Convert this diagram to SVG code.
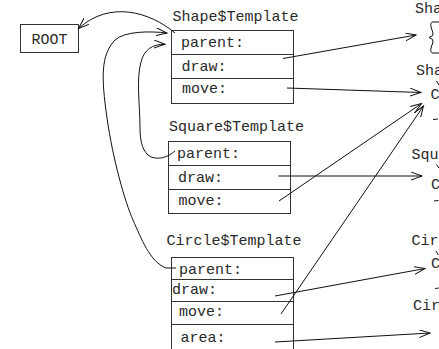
<svg xmlns="http://www.w3.org/2000/svg" width="439" height="349" viewBox="0 0 439 349">
  <style>
    .box { fill: #ffffff; stroke: #333333; stroke-width: 1; }
    .div { stroke: #333333; stroke-width: 1; }
    .t { font-family: "Liberation Mono", "DejaVu Sans Mono", monospace; font-size: 15px; fill: #2a2a2a; }
    .ln { fill: none; stroke: #111111; stroke-width: 1; }
    .arr { fill: none; stroke: #111111; stroke-width: 1; marker-end: url(#head); }
  </style>
  <defs>
    <marker id="head" markerUnits="userSpaceOnUse" markerWidth="13" markerHeight="9" refX="11" refY="4" orient="auto">
      <path d="M0,0 L11,4 L0,8" fill="none" stroke="#111111" stroke-width="1"/>
    </marker>
  </defs>
  <rect width="439" height="349" fill="#ffffff"/>

  <!-- root object -->
  <g id="root">
    <rect class="box" x="20.5" y="24.5" width="58" height="28"/>
    <text class="t" x="31.5" y="44">ROOT</text>
  </g>

  <!-- Shape template -->
  <g id="shape-template">
    <text class="t" x="172.5" y="21">Shape$Template</text>
    <rect class="box" x="171.5" y="30.5" width="122" height="73"/>
    <line class="div" x1="171.5" y1="54.5" x2="293.5" y2="54.5"/>
    <line class="div" x1="171.5" y1="78.5" x2="293.5" y2="78.5"/>
    <text class="t" x="181" y="47">parent:</text>
    <text class="t" x="181.5" y="70.5">draw:</text>
    <text class="t" x="182" y="93">move:</text>
  </g>

  <!-- Square template -->
  <g id="square-template">
    <text class="t" x="169" y="130.5">Square$Template</text>
    <rect class="box" x="168.5" y="141.5" width="122" height="72"/>
    <line class="div" x1="168.5" y1="165.5" x2="290.5" y2="165.5"/>
    <line class="div" x1="168.5" y1="189.5" x2="290.5" y2="189.5"/>
    <text class="t" x="177" y="157.5">parent:</text>
    <text class="t" x="178" y="181.5">draw:</text>
    <text class="t" x="178.5" y="205">move:</text>
  </g>

  <!-- Circle template -->
  <g id="circle-template">
    <text class="t" x="166.5" y="245">Circle$Template</text>
    <rect class="box" x="171.5" y="257.5" width="122" height="100"/>
    <line class="div" x1="171.5" y1="279.5" x2="293.5" y2="279.5"/>
    <line class="div" x1="171.5" y1="301.5" x2="293.5" y2="301.5"/>
    <line class="div" x1="171.5" y1="324.5" x2="293.5" y2="324.5"/>
    <text class="t" x="179" y="273.5">parent:</text>
    <text class="t" x="172" y="294">draw:</text>
    <text class="t" x="179" y="316">move:</text>
    <text class="t" x="180.5" y="342">area:</text>
  </g>

  <!-- method bodies along the right edge -->
  <g id="shape-draw">
    <text class="t" x="415" y="13">Sha</text>
    <path class="ln" d="M440,22 L433,22 Q430,22 431,27 L433,33 Q434,36 429,37.5 Q434,39 433,42 L431,48 Q430,53 433,53 L440,53"/>
  </g>
  <g id="shape-move">
    <text class="t" x="416" y="75">Sha</text>
    <path class="ln" d="M436.5,81 L439,85"/>
    <text class="t" x="430.5" y="98.5">C</text>
    <path class="ln" d="M433,119.5 L438,119"/>
  </g>
  <g id="square-draw">
    <text class="t" x="411.5" y="159">Squ</text>
    <path class="ln" d="M436.5,164.5 L439,168"/>
    <text class="t" x="431" y="188.5">C</text>
    <path class="ln" d="M434,201 L438.5,200.5"/>
  </g>
  <g id="circle-draw">
    <text class="t" x="411.5" y="245">Cir</text>
    <path class="ln" d="M436,251 L438.5,255"/>
    <text class="t" x="431" y="267.5">C</text>
    <path class="ln" d="M435,288.5 L439,288"/>
  </g>
  <g id="circle-area">
    <text class="t" x="413" y="310">Cir</text>
  </g>

  <!-- pointers -->
  <g id="connectors">
    <path class="arr" d="M175,33 C150,12 110,0 78.5,28.5"/>
    <path class="arr" d="M176,268 L166,268 C150,262 141,238 133,220 S113,160 107,118 S101,55 115,40 C125,31 150,31 167,33"/>
    <path class="arr" d="M175,151 C168,157 160,160 151,157 C143,153 140,142 140,128 C140,105 136,80 141,62 C144,50 152,44 165,44.3"/>
    <line class="arr" x1="283" y1="58.5" x2="416" y2="35"/>
    <line class="arr" x1="287" y1="88" x2="421" y2="92.5"/>
    <line class="arr" x1="278.5" y1="176" x2="422" y2="176"/>
    <line class="arr" x1="279" y1="201" x2="421.5" y2="103.5"/>
    <line class="arr" x1="281" y1="314" x2="423.5" y2="106"/>
    <line class="arr" x1="275" y1="296" x2="425" y2="268.5"/>
    <line class="arr" x1="275" y1="342" x2="430" y2="333"/>
  </g>
</svg>
